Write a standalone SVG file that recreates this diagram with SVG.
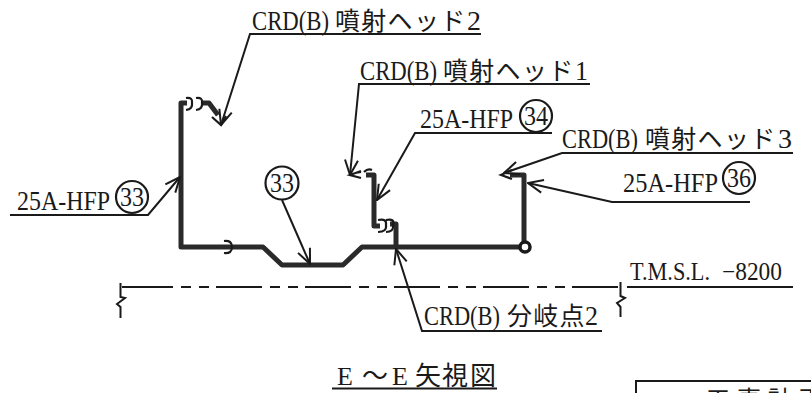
<svg xmlns="http://www.w3.org/2000/svg" width="811" height="393" viewBox="0 0 811 393">
<style>
text{font-family:"Liberation Serif","Noto Sans CJK JP",serif;font-size:27px;fill:#1a1a1a}
.j{font-family:"Noto Sans CJK JP","Liberation Serif",sans-serif;font-size:25px;letter-spacing:1.300px}
.ld{fill:none;stroke:#1a1a1a;stroke-width:2}
.pipe{fill:none;stroke:#2a2a2a;stroke-width:5;stroke-linejoin:round}
.th{fill:none;stroke:#1a1a1a;stroke-width:2.2}
.cir{fill:#fff;stroke:#1a1a1a;stroke-width:2.2}
</style>
<defs>
<marker id="a" viewBox="-16 -8 17 16" markerWidth="17" markerHeight="16" refX="0" refY="0" orient="auto" markerUnits="userSpaceOnUse"><path d="M-15,-6.500 L0,0 L-15,6.500" fill="none" stroke="#1a1a1a" stroke-width="2"/></marker>
</defs>
<rect width="811" height="393" fill="#fff"/>
<g id="connectors">
<path class="pipe" d="M187,103 H181 V247 H263 L282,265 H343 L362,247 H524 V175 H510"/>
<path class="pipe" d="M396,247 V224 H390"/>
<path class="pipe" d="M380,226 H374 V175 H366"/>
<path class="pipe" d="M201,103 H209 L218,115"/>
<path class="th" d="M512,170 L501,175 L512,179"/>
<path class="th" d="M212,117 L221,125 L226,116"/>
<path class="th" d="M361,171 L350,175 L361,178 M355,173 L361,172"/>
<path class="th" d="M186,98 Q193,97 192,103 Q193,109 186,110 M196,98 Q203,97 202,103 Q203,109 196,110"/>
<path class="th" d="M224,241 Q232,240 232,247 Q232,254 224,253"/>
<path class="th" d="M378,220 Q387,218 386,225 Q387,232 378,232 M386,220 Q395,218 393,225 Q394,232 386,232"/>
<path class="th" d="M364,172 Q368,168 372,170"/>
<circle cx="525" cy="247" r="5" fill="#fff" stroke="#1a1a1a" stroke-width="3.500"/>
<path class="ld" marker-end="url(#a)" d="M481,34 H250 L221,125"/>
<path class="ld" marker-end="url(#a)" d="M590,84 H359 L350,175"/>
<path class="ld" marker-end="url(#a)" d="M552,133 H415 L377,200"/>
<path class="ld" marker-end="url(#a)" d="M793,153 H562 L504,173"/>
<path class="ld" marker-end="url(#a)" d="M750,202 H612 L528,183"/>
<path class="ld" marker-end="url(#a)" d="M10,215 H148 L180,177"/>
<path class="ld" marker-end="url(#a)" d="M282,200 L310,264"/>
<path class="ld" marker-end="url(#a)" d="M602,331 H422 L396,249"/>
<path class="ld" stroke-width="2.500" d="M122,287 H127"/>
<path class="ld" stroke-width="2.500" stroke-dasharray="46 8 10 8 10 7" d="M127,287 H620"/>
<path class="ld" stroke-width="2.500" d="M627,287 H793"/>
<path class="ld" stroke-width="2.500" d="M120.500,283 V297 L125,298 L117,304 L120.500,307 V318"/>
<path class="ld" stroke-width="2.500" d="M620.500,282 V296 L625,298 L617,303 L620.500,307 V317"/>
<path class="ld" d="M332,388.500 H497"/>
<path class="ld" stroke-width="2.500" d="M636,393 V381 H811"/>
</g>
<g id="label-head2"><text y="30"><tspan x="252" textLength="77" lengthAdjust="spacingAndGlyphs">CRD(B)</tspan><tspan class="j" x="335">噴射ヘッド</tspan><tspan x="467" textLength="14" lengthAdjust="spacingAndGlyphs">2</tspan></text></g>
<g id="label-head1"><text y="80"><tspan x="360" textLength="77" lengthAdjust="spacingAndGlyphs">CRD(B)</tspan><tspan class="j" x="443">噴射ヘッド</tspan><tspan x="575" textLength="13" lengthAdjust="spacingAndGlyphs">1</tspan></text></g>
<g id="label-34"><text x="420" y="128" textLength="93" lengthAdjust="spacingAndGlyphs">25A-HFP</text><circle class="cir" cx="536" cy="116" r="16"/><text x="524" y="125" textLength="24" lengthAdjust="spacingAndGlyphs">34</text></g>
<g id="label-head3"><text y="148"><tspan x="562" textLength="76" lengthAdjust="spacingAndGlyphs">CRD(B)</tspan><tspan class="j" x="645">噴射ヘッド</tspan><tspan x="778" textLength="14" lengthAdjust="spacingAndGlyphs">3</tspan></text></g>
<g id="label-36"><text x="623" y="192" textLength="95" lengthAdjust="spacingAndGlyphs">25A-HFP</text><circle class="cir" cx="739" cy="178" r="16"/><text x="727" y="187" textLength="24" lengthAdjust="spacingAndGlyphs">36</text></g>
<g id="label-33a"><text x="17" y="210" textLength="93" lengthAdjust="spacingAndGlyphs">25A-HFP</text><circle class="cir" cx="132" cy="197" r="16"/><text x="120" y="206" textLength="24" lengthAdjust="spacingAndGlyphs">33</text></g>
<g id="label-33b"><circle class="cir" cx="282" cy="183" r="16.500"/><text x="270" y="192" textLength="24" lengthAdjust="spacingAndGlyphs">33</text></g>
<g id="label-branch"><text y="325"><tspan x="424" textLength="76" lengthAdjust="spacingAndGlyphs">CRD(B)</tspan><tspan class="j" x="507">分岐点</tspan><tspan x="585" textLength="13" lengthAdjust="spacingAndGlyphs">2</tspan></text></g>
<g id="label-tmsl"><text y="280" style="font-size:25px"><tspan x="630" textLength="80" lengthAdjust="spacingAndGlyphs">T.M.S.L.</tspan><tspan x="722" textLength="60" lengthAdjust="spacingAndGlyphs">−8200</tspan></text></g>
<g id="title"><text x="337 362 392 415 442 470" y="385" style="font-size:26px">E～E矢視図</text></g>
<g id="box"><text class="j" x="706" y="408" style="font-size:24px;letter-spacing:7px">工事計画</text></g>
</svg>
